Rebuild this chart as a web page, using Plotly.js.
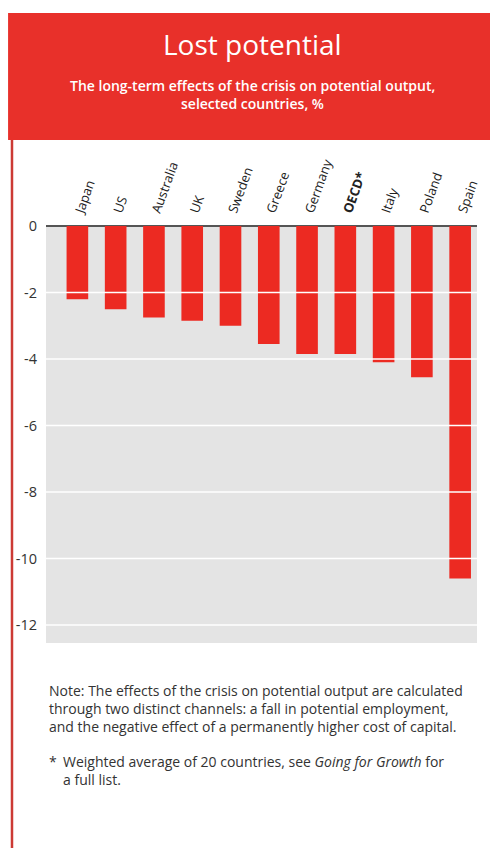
<!DOCTYPE html>
<html>
<head>
<meta charset="utf-8">
<script src="https://cdn.plot.ly/plotly-3.0.1.min.js"></script>
<style>html,body{margin:0;padding:0;background:#fff;}#chart{width:490px;height:848px;}</style>
</head>
<body>
<div id="chart"></div>
<script>
const countries = ['Japan','US','Australia','UK','Sweden','Greece','Germany','OECD*','Italy','Poland','Spain'];
const tickLabels = ['Japan','US','Australia','UK','Sweden','Greece','Germany','<b>OECD*</b>','Italy','Poland','Spain'];
const lostPotential = [-2.2, -2.5, -2.75, -2.85, -3.0, -3.55, -3.85, -3.85, -4.1, -4.55, -10.6];
const yTicks = [0, -2, -4, -6, -8, -10, -12];
const gridValues = [-2, -4, -6, -8, -10, -12];

const RED = '#ec2a22';
const HEAD = '#e8302a';

const shapes = [
  {type:'rect', xref:'paper', yref:'paper', x0:-0.088, x1:1.04, y0:1.206, y1:1.511, fillcolor:HEAD, line:{width:0}, layer:'below'},
  {type:'line', xref:'paper', yref:'paper', x0:-0.0789, x1:-0.0789, y0:1.206, y1:-0.5, line:{color:'#cc3a34', width:2.5}}
];
gridValues.forEach(v => shapes.push({type:'line', xref:'paper', yref:'y', x0:0, x1:1, y0:v, y1:v, line:{color:'#ffffff', width:1.5}, layer:'above'}));

const txt = '#333333';
const noteFont = {family:'Open Sans, sans-serif', size:14, color:txt};
const annotations = [
  {text:'Lost potential', xref:'paper', yref:'paper', x:0.478, y:1.436, xanchor:'center', yanchor:'middle', showarrow:false, font:{family:'Open Sans, sans-serif', size:28, color:'#ffffff', weight:500}},
  {text:'The long-term effects of the crisis on potential output,', xref:'paper', yref:'paper', x:0.478, y:1.336, xanchor:'center', yanchor:'middle', showarrow:false, font:{family:'Open Sans, sans-serif', size:14, color:'#ffffff', weight:600}},
  {text:'selected countries, %', xref:'paper', yref:'paper', x:0.478, y:1.293, xanchor:'center', yanchor:'middle', showarrow:false, font:{family:'Open Sans, sans-serif', size:14, color:'#ffffff', weight:600}},
  {text:'Note: The effects of the crisis on potential output are calculated', xref:'paper', yref:'paper', x:0.002, y:-0.113, xanchor:'left', yanchor:'middle', showarrow:false, font:noteFont},
  {text:'through two distinct channels: a fall in potential employment,', xref:'paper', yref:'paper', x:0.002, y:-0.158, xanchor:'left', yanchor:'middle', showarrow:false, font:noteFont},
  {text:'and the negative effect of a permanently higher cost of capital.', xref:'paper', yref:'paper', x:0.002, y:-0.201, xanchor:'left', yanchor:'middle', showarrow:false, font:noteFont},
  {text:'*', xref:'paper', yref:'paper', x:0.002, y:-0.285, xanchor:'left', yanchor:'middle', showarrow:false, font:noteFont},
  {text:'Weighted average of 20 countries, see <i>Going for Growth</i> for', xref:'paper', yref:'paper', x:0.035, y:-0.285, xanchor:'left', yanchor:'middle', showarrow:false, font:noteFont},
  {text:'a full list.', xref:'paper', yref:'paper', x:0.035, y:-0.328, xanchor:'left', yanchor:'middle', showarrow:false, font:noteFont}
];

const data = [{
  type:'bar', x:countries, y:lostPotential, marker:{color:RED, line:{width:0}}, width:0.565,
  hoverinfo:'x+y'
}];

const layout = {
  width:490, height:848,
  margin:{l:46, r:13, t:226, b:205, pad:0},
  paper_bgcolor:'#ffffff', plot_bgcolor:'#e4e4e4',
  showlegend:false, bargap:0.43,
  font:{family:'Open Sans, sans-serif', color:txt},
  xaxis:{type:'category', side:'top', range:[-0.82, 10.44], tickmode:'array', tickvals:countries, ticktext:tickLabels,
         tickangle:-70, showgrid:false, ticks:'', ticklabelstandoff:4, tickfont:{family:'Open Sans, sans-serif', size:13, color:'#222'}, fixedrange:true, showline:false, zeroline:false},
  yaxis:{range:[-12.54, 0], tickmode:'array', tickvals:yTicks, ticktext:yTicks.map(String), showgrid:false,
         zeroline:true, zerolinecolor:'#555555', zerolinewidth:1.2, ticks:'', ticklabelstandoff:8,
         tickfont:{family:'Open Sans, sans-serif', size:14.5, color:'#333'}, fixedrange:true, showline:false},
  shapes:shapes, annotations:annotations
};
Plotly.newPlot('chart', data, layout, {displayModeBar:false, staticPlot:true});
</script>
</body>
</html>
